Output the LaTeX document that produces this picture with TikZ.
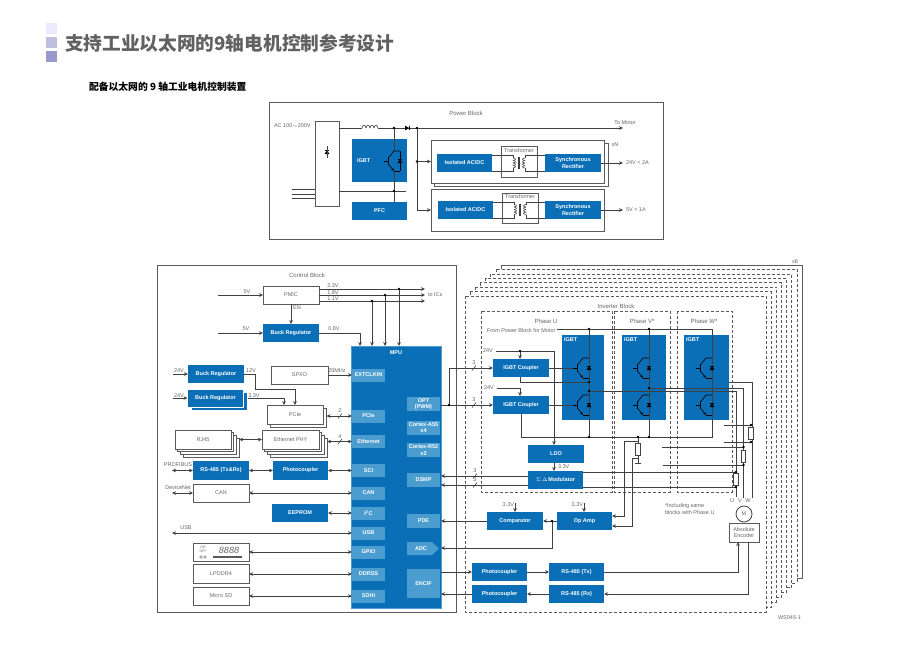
\documentclass[tikz,border=0pt]{standalone}
\usepackage{fontspec}
\setmainfont{Liberation Sans}
\newfontfamily\cjk{Noto Sans CJK SC}
\usetikzlibrary{arrows.meta, calc}
\definecolor{tiblue}{HTML}{0A6FB7}
\definecolor{portblue}{HTML}{4B9DD0}
\definecolor{linegray}{HTML}{404040}
\definecolor{boxgray}{HTML}{5A5A5A}
\definecolor{txtgray}{HTML}{666666}
\newcommand{\lblfont}{\fontsize{5.5}{6.5}\selectfont}
\newcommand{\diodesym}[2]{% #1 = centre, #2 = rotation
  \begin{scope}[shift={(#1)}, rotate=#2]
    \fill[black] (-2,-2.4) -- (2,0) -- (-2,2.4) -- cycle;
    \draw[black, line width=0.55pt] (2,-2.4) -- (2,2.4);
  \end{scope}
}
\newcommand{\igbtsym}[2]{% #1 = rail x, #2 = centre y
  \begin{scope}[shift={(#1,#2)}, black, line width=0.6pt]
    \draw (-16,0) -- (-12,0);
    \draw[line width=1pt] (-12,-4) -- (-12,4);
    \draw (-12,-2.5) -- (-6,-10) -- (0,-10);
    \draw[-{Stealth[length=3pt,width=2.6pt]}] (-12,2.5) -- (-6,10);
    \draw (-6,10) -- (0,10);
  \end{scope}
  \diodesym{#1,#2}{90}
}
\newcommand{\xfmr}[3]{% #1 = transformer node, #2 = left block, #3 = right block
  \begin{scope}[shift={(#1.center)}, yshift=-1.5]
    \foreach \k in {-5,-2.5,0,2.5} {
      \draw[wire] (-6,\k) .. controls (-2.8,\k+0.2) and (-2.8,\k+2.3) .. (-6,\k+2.5);
      \draw[wire] (6,\k) .. controls (2.8,\k+0.2) and (2.8,\k+2.3) .. (6,\k+2.5);
    }
    \draw[wire] (-0.7,-6) -- (-0.7,6);
    \draw[wire] (0.7,-6) -- (0.7,6);
    \coordinate (#1lt) at (-6,-5);
    \coordinate (#1lb) at (-6,5);
    \coordinate (#1rt) at (6,-5);
    \coordinate (#1rb) at (6,5);
  \end{scope}
  \draw[wire] ([yshift=8]#2.east) -| (#1lt);
  \draw[wire] ([yshift=-8]#2.east) -| (#1lb);
  \draw[wire] ([yshift=8]#3.west) -| (#1rt);
  \draw[wire] ([yshift=-8]#3.west) -| (#1rb);
}
\newcommand{\busmark}[3]{% #1 = label name, #2 = point on the line, #3 = width
  \draw[wire] ($(#2)+(-2,2.5)$) -- ($(#2)+(2,-2.5)$);
  \node[lbl] (#1) at ($(#2)+(0,-5)$) {#3};
}
\newcommand{\dotat}[1]{\fill[black] (#1) circle (1.4);}
\tikzset{
    every node/.style={inner sep=0, outer sep=0, font=\lblfont},
    wire/.style={draw=linegray, line width=0.6pt},
    sig/.style={wire, -{Stealth[length=4pt,width=3.6pt]}},
    bisig/.style={wire, {Stealth[length=4pt,width=3.6pt]}-{Stealth[length=4pt,width=3.6pt]}},
    bluebox/.style={fill=tiblue, text=white, font=\lblfont\bfseries, minimum width=56, minimum height=18},
    whitebox/.style={draw=boxgray, line width=0.8pt, fill=white, text=txtgray, minimum width=56, minimum height=18},
    port/.style={fill=portblue, text=white, font=\lblfont\bfseries, minimum width=33, minimum height=13, align=center},
    frame/.style={draw=boxgray, line width=0.8pt, fill=white},
    dashbox/.style={draw=boxgray, line width=0.6pt, dash pattern=on 3pt off 2pt},
    resbox/.style={draw=linegray, line width=0.6pt, fill=white, minimum width=4.5, minimum height=12},
    lbl/.style={text=txtgray},
    phaselbl/.style={text=txtgray, font=\fontsize{6}{7}\selectfont},
    }
\begin{document}
\begin{tikzpicture}[x=1pt, y=-1pt]
    \useasboundingbox (0,0) rectangle (899,662);

    % heading
    \fill[black!8!blue!8] (46,23) rectangle (57,34);
    \fill[blue!50!black!25] (46,37) rectangle (57,48);
    \fill[blue!50!black!40] (46,51) rectangle (57,62);
    \node[anchor=west, text=black!62] (title) at (65,43) {\cjk\bfseries\fontsize{18.7}{22}\selectfont 支持工业以太网的9轴电机控制参考设计};
    \node[anchor=west, text=black] (subtitle) at (89,87) {\cjk\bfseries\fontsize{9.8}{11}\selectfont 配备以太网的 9 轴工业电机控制装置};

    % power block
    \node[frame, minimum width=394, minimum height=137] (powerblk) at (466,170.5) {};
    \node[phaselbl] (lblpower) at (466,113) {Power Block};
    \node[whitebox, minimum width=24, minimum height=85] (rect) at (327,163.5) {};
    \node[bluebox, minimum width=55, minimum height=43] (igbt0) at (379.5,160.5) {};
    \node[anchor=west, text=white, font=\lblfont\bfseries] (lbligbt0) at (357,161) {IGBT};
    \node[bluebox, minimum width=55] (pfc) at (379.5,211) {PFC};
    \node[whitebox, minimum width=174, minimum height=43] (isoback) at (521,164.5) {};
    \node[whitebox, minimum width=173, minimum height=43] (iso1) at (517.5,161.5) {};
    \node[whitebox, minimum width=173, minimum height=42] (iso2) at (517.5,210) {};
    \node[bluebox, minimum width=55] (acdc1) at (464.5,163) {Isolated AC/DC};
    \node[bluebox, minimum width=55] (acdc2) at (465.5,210) {Isolated AC/DC};
    \node[whitebox, minimum width=36, minimum height=31] (trans1) at (519,161.5) {};
    \node[whitebox, minimum width=36, minimum height=30] (trans2) at (520,208) {};
    \node[lbl] (lbltrans1) at (519,150.5) {Transformer};
    \node[lbl] (lbltrans2) at (520,197) {Transformer};
    \node[bluebox, align=center] (sync1) at (573,163) {Synchronous\\Rectifier};
    \node[bluebox, align=center] (sync2) at (573,210) {Synchronous\\Rectifier};
    \node[lbl] (lblxn) at (615,145) {xN};

    \coordinate (acin1) at (292,189);
    \coordinate (acin2) at (292,194);
    \coordinate (acin3) at (292,198);
    \coordinate (acret) at (406,191);
    \coordinate (toplft) at (339,128);
    \coordinate (indl) at (362,128);
    \coordinate (indr) at (378,128);
    \coordinate (tomotor) at (623,128);
    \coordinate (jct1) at (394,128);
    \coordinate (jct2) at (394,191);
    \coordinate (igbtc) at (394,151);
    \coordinate (igbte) at (394,171);
    \coordinate (bustop) at (417,128);
    \coordinate (out24) at (623,163);
    \coordinate (out5) at (623,210);
    \draw[wire] (acin1) -- (acin1 -| rect.west);
    \draw[wire] (acin2) -- (acin2 -| rect.west);
    \draw[wire] (acin3) -- (acin3 -| rect.west);
    \draw[wire] (rect.east |- acret) -- (acret);
    \draw[wire] (toplft) -- (indl);
    \draw[sig] (indr) -- (tomotor);
    \foreach \k in {362,366,370,374} {
      \draw[wire] (\k,128) .. controls (\k+0.5,124.5) and (\k+3.5,124.5) .. (\k+4,128);
    }
    \diodesym{407,128}{0}
    \diodesym{327,152}{90}
    \draw[wire] (327,146) -- (327,158);
    \draw[wire] (jct1) -- (igbtc);
    \draw[wire] (igbte) -- (igbte |- pfc.north);
    \draw[black, line width=0.6pt] (400,151) -- (400,171);
    \igbtsym{400}{161}
    \draw[wire] (bustop) -- (bustop |- iso2.west);
    \draw[sig] (bustop |- iso1.west) -- (iso1.west);
    \draw[sig] (bustop |- iso2.west) -- (iso2.west);
    \dotat{jct1}
    \dotat{jct2}
    \dotat{bustop}
    \dotat{bustop |- iso1.west}
    \xfmr{trans1}{acdc1}{sync1}
    \xfmr{trans2}{acdc2}{sync2}
    \draw[sig] (sync1.east) -- (out24);
    \draw[sig] (sync2.east) -- (out5);
    \node[lbl, anchor=west] (lblac) at (274,126) {AC 100$\sim$200V};
    \node[lbl] (lbltomotor) at (625,123) {To Motor};
    \node[lbl, anchor=west] (lbl24out) at (626,163) {24V < 2A};
    \node[lbl, anchor=west] (lbl5out) at (626,210) {5V < 1A};

    % control block
    \node[frame, minimum width=299, minimum height=347] (ctrlblk) at (306.5,438.5) {};
    \node[phaselbl] (lblctrl) at (307,275) {Control Block};
    \node[whitebox] (pmic) at (291,295) {PMIC};
    \node[bluebox] (buck0) at (291,333) {Buck Regulator};
    \node[bluebox] (buck1) at (216,374) {Buck Regulator};
    \node[bluebox, draw=white, line width=0.4pt] (buck2b) at (219.5,401) {};
    \node[bluebox, draw=white, line width=0.4pt] (buck2) at (215.5,398) {Buck Regulator};
    \node[whitebox, minimum width=57] (spxo) at (299.5,375) {SPXO};
    \node[whitebox, minimum height=19] (pcieb) at (298.5,417.5) {};
    \node[whitebox, minimum height=19] (pcie) at (295,414.5) {PCIe};
    \foreach \k in {3,2,1} {
      \node[whitebox, minimum height=19] (rjb\k) at ({203+2.7*\k},{439.5+2.7*\k}) {};
      \node[whitebox, minimum width=57, minimum height=19] (phyb\k) at ({290.5+2.7*\k},{439.5+2.7*\k}) {};
    }
    \node[whitebox, minimum height=19] (rj) at (203,439.5) {RJ45};
    \node[whitebox, minimum width=57, minimum height=19] (phy) at (290.5,439.5) {Ethernet PHY};
    \node[bluebox, minimum height=19] (rs485) at (221,470.5) {RS-485 (Tx\&Rx)};
    \node[bluebox, minimum width=55, minimum height=19] (photo0) at (300.5,470.5) {Photocoupler};
    \node[whitebox] (can) at (221,493) {CAN};
    \node[bluebox] (eeprom) at (300,513) {EEPROM};
    \node[whitebox] (gpiobox) at (221,552) {};
    \node[whitebox, minimum height=19] (lpddr) at (221,574) {LPDDR4};
    \node[whitebox] (sd) at (221,596) {Micro SD};

    \node[fill=tiblue, draw=portblue, line width=0.4pt, minimum width=90, minimum height=262] (mpu) at (396,477) {};
    \node[text=white, font=\lblfont\bfseries] (lblmpu) at (396,353) {MPU};
    \node[port] (extclk) at (368.5,375) {EXTCLKIN};
    \node[port] (pciep) at (368.5,416) {PCIe};
    \node[port] (ethp) at (368.5,441.5) {Ethernet};
    \node[port] (scip) at (368.5,470.5) {SCI};
    \node[port] (canp) at (368.5,493) {CAN};
    \node[port] (i2cp) at (368.5,513) {I\textsuperscript{2}C};
    \node[port] (usbp) at (368.5,533) {USB};
    \node[port] (gpiop) at (368.5,552) {GPIO};
    \node[port] (ddrp) at (368.5,574) {DDRSS};
    \node[port] (sdhip) at (368.5,596) {SDHI};
    \node[port, minimum height=14] (optp) at (423.5,404) {OPT\\(PWM)};
    \node[port, minimum height=14] (a55p) at (423.5,427.5) {Cortex-A55\\x4};
    \node[port, minimum height=14] (r52p) at (423.5,450) {Cortex-R52\\x2};
    \node[port, minimum height=14] (dsmp) at (423.5,480) {DSMP};
    \node[port, minimum height=14] (pdep) at (423.5,521) {PDE};
    \fill[portblue] (407,542) -- (432,542) -- (439,548.5) -- (432,555) -- (407,555) -- cycle;
    \node[text=white, font=\lblfont\bfseries] (adcp) at (421,548.5) {ADC};
    \node[port, minimum height=29] (encif) at (423.5,583.5) {ENCIF};

    % display on the GPIO box
    \node[lbl, font=\fontsize{3.4}{3.8}\selectfont, align=center] (lblonoff) at (203,549) {ON\\OFF};
    \node[lbl, font=\fontsize{9}{9}\selectfont\itshape] (lbldigits) at (229,550) {8888};
    \draw[boxgray] (201,557) circle (1.3);
    \draw[boxgray] (205,557) circle (1.3);
    \fill[boxgray] (213,556) rectangle (242,558);

    % control block wires
    \coordinate (ic33) at (425,289);
    \coordinate (ic18) at (425,295);
    \coordinate (ic11) at (425,301);
    \coordinate (tap33) at (399,289);
    \coordinate (tap18) at (385,295);
    \coordinate (tap11) at (372,301);
    \coordinate (in5a) at (218,295);
    \coordinate (in5b) at (218,333);
    \coordinate (bend08) at (360,333);
    \coordinate (in24a) at (173,374);
    \coordinate (in24b) at (173,398);
    \coordinate (bend12a) at (255,374);
    \coordinate (bend12b) at (255,389);
    \coordinate (bend33) at (284,398);
    \coordinate (endprofi) at (172,470.5);
    \coordinate (enddnet) at (172,493);
    \coordinate (endusb) at (172,533);
    \draw[sig] (pmic.east |- ic33) -- (ic33);
    \draw[sig] (pmic.east |- ic18) -- (ic18);
    \draw[sig] (pmic.east |- ic11) -- (ic11);
    \draw[sig] (tap33) -- (tap33 |- mpu.north);
    \draw[sig] (tap18) -- (tap18 |- mpu.north);
    \draw[sig] (tap11) -- (tap11 |- mpu.north);
    \dotat{tap33}
    \dotat{tap18}
    \dotat{tap11}
    \draw[sig] (in5a) -- (pmic.west);
    \draw[sig] (in5b) -- (buck0.west);
    \draw[sig] (pmic.south) -- (buck0.north);
    \draw[sig] (buck0.east) -- (bend08) -- (bend08 |- mpu.north);
    \draw[sig] (spxo.east) -- (extclk.west);
    \draw[sig] (in24a) -- (buck1.west);
    \draw[sig] (in24b) -- (buck2.west);
    \draw[sig] (buck1.east) -- (bend12a) -- (bend12b) -- (bend12b -| pcie.north) -- (pcie.north);
    \draw[sig] (buck2b.east |- bend33) -- (bend33) -- (bend33 |- pcie.north);
    \draw[bisig] (pcieb.east |- pciep.west) -- (pciep.west);
    \draw[bisig] (rjb3.east |- phy.west) -- (phy.west);
    \draw[bisig] (phyb3.east |- ethp.west) -- (ethp.west);
    \busmark{lblbus2}{340,416}{2}
    \busmark{lblbus4}{340,441.5}{4}
    \draw[bisig] (endprofi) -- (rs485.west);
    \draw[bisig] (rs485.east) -- (photo0.west);
    \draw[bisig] (photo0.east) -- (scip.west);
    \draw[bisig] (enddnet) -- (can.west);
    \draw[bisig] (can.east) -- (canp.west);
    \draw[bisig] (eeprom.east) -- (i2cp.west);
    \draw[bisig] (endusb) -- (usbp.west);
    \draw[bisig] (gpiobox.east) -- (gpiop.west);
    \draw[bisig] (lpddr.east) -- (ddrp.west);
    \draw[bisig] (sd.east) -- (sdhip.west);

    \node[lbl] (lbl33) at (333,286) {3.3V};
    \node[lbl] (lbl18) at (333,292.5) {1.8V};
    \node[lbl] (lbl11) at (333,298.5) {1.1V};
    \node[lbl, anchor=west] (lblics) at (428,295) {to ICs};
    \node[lbl] (lbl5a) at (247,292) {5V};
    \node[lbl] (lbl5b) at (246,329) {5V};
    \node[lbl] (lblen) at (297,308) {EN};
    \node[lbl] (lbl08) at (334,329) {0.8V};
    \node[lbl] (lbl25m) at (337,371) {25MHz};
    \node[lbl] (lbl24a) at (179,371) {24V};
    \node[lbl] (lbl24b) at (179,396) {24V};
    \node[lbl] (lbl12) at (251,371) {12V};
    \node[lbl] (lbl33b) at (254,396) {3.3V};
    \node[lbl] (lblprofi) at (178,465) {PROFIBUS};
    \node[lbl] (lbldnet) at (178,488) {DeviceNet};
    \node[lbl] (lblusb) at (186,528) {USB};

    % inverter stack
    \foreach \k in {7,...,1} {
      \ifnum\k=7
        \draw[draw=boxgray, line width=0.6pt, fill=white] ({465+5.14*\k},{296-4.43*\k}) rectangle ({766+5.14*\k},{612-4.86*\k});
      \else
        \draw[dashbox, fill=white] ({465+5.14*\k},{296-4.43*\k}) rectangle ({766+5.14*\k},{612-4.86*\k});
      \fi
    }
    \draw[dashbox, fill=white] (465,296) rectangle (766,612);
    \node[lbl] (lblx8) at (795,262) {x8};
    \node[phaselbl] (lblinv) at (616,306) {Inverter Block};
    \draw[dashbox] (481,311) rectangle (612,492);
    \draw[dashbox] (614,311) rectangle (670,492);
    \draw[dashbox] (677,311) rectangle (732,492);
    \node[phaselbl] (lblphu) at (546,321) {Phase U};
    \node[phaselbl] (lblphv) at (642,321) {Phase V*};
    \node[phaselbl] (lblphw) at (704,321) {Phase W*};
    \node[lbl, anchor=west] (lblfrom) at (487,331) {From Power Block for Motor};

    \node[bluebox, minimum width=42, minimum height=85] (igbtu) at (583,377.5) {};
    \node[bluebox, minimum width=44, minimum height=85] (igbtv) at (644,377.5) {};
    \node[bluebox, minimum width=45, minimum height=85] (igbtw) at (706.5,377) {};
    \node[anchor=west, text=white, font=\lblfont\bfseries] (lblig1) at (564,340) {IGBT};
    \node[anchor=west, text=white, font=\lblfont\bfseries] (lblig2) at (624,340) {IGBT};
    \node[anchor=west, text=white, font=\lblfont\bfseries] (lblig3) at (686,340) {IGBT};
    \node[bluebox] (coup1) at (521,368) {IGBT Coupler};
    \node[bluebox] (coup2) at (521,405) {IGBT Coupler};
    \node[bluebox] (ldo) at (556,454) {LDO};
    \node[bluebox, minimum width=55] (mod) at (555.5,480) {$\Sigma\,\Delta$\,Modulator};
    \node[bluebox] (comp) at (515,521) {Comparator};
    \node[bluebox, minimum width=55] (opamp) at (584.5,521) {Op Amp};
    \node[bluebox, minimum width=55] (ph1) at (499.5,572) {Photocoupler};
    \node[bluebox, minimum width=55] (ph2) at (499.5,594) {Photocoupler};
    \node[bluebox, minimum width=55] (tx) at (576.5,572) {RS-485 (Tx)};
    \node[bluebox, minimum width=55] (rx) at (576.5,594) {RS-485 (Rx)};
    \node[draw=linegray, line width=0.8pt, fill=white, circle, minimum size=16, text=txtgray] (motor) at (744,514) {M};
    \node[whitebox, minimum width=30, minimum height=19, align=center] (enc) at (744,532.5) {Absolute\\Encoder};

    % inverter wires
    \coordinate (railtop) at (557,329);
    \coordinate (railu) at (589,329);
    \coordinate (railv) at (649,329);
    \coordinate (railw) at (712,329);
    \coordinate (railub) at (589,437);
    \coordinate (railvb) at (649,437);
    \coordinate (railwb) at (712,437);
    \coordinate (v24a) at (496,351);
    \coordinate (v24ab) at (554,351);
    \coordinate (tap24) at (520,351);
    \coordinate (v24b) at (497,388);
    \coordinate (v24bb) at (520,388);
    \coordinate (coupmid) at (520,382);
    \coordinate (midu) at (589,391);
    \coordinate (midv) at (649,388);
    \coordinate (midw) at (729,382);
    \coordinate (motu) at (736,497);
    \coordinate (motv) at (743.5,498);
    \coordinate (motw) at (752,498);
    \coordinate (optj) at (449,405);
    \coordinate (optup) at (449,368);
    \coordinate (gate1) at (573,368);
    \coordinate (gate2) at (573,405);
    \draw[wire] (railtop) -- (railw) -- (railwb) -- (coup2.south |- railwb) -- (coup2.south);
    \draw[wire] (railu) -- (railub);
    \draw[wire] (railv) -- (railvb);
    \foreach \xr in {589,649,712} {
      \igbtsym{\xr}{368}
      \igbtsym{\xr}{405}
    }
    \draw[wire] (coup1.east) -- (gate1);
    \draw[wire] (coup2.east) -- (gate2);
    \draw[wire] (v24a) -- (v24ab);
    \draw[sig] (v24ab) -- (v24ab |- ldo.north);
    \draw[sig] (tap24) -- (tap24 |- coup1.north);
    \draw[wire] (v24b) -- (v24bb);
    \draw[sig] (v24bb) -- (v24bb |- coup2.north);
    \draw[wire] (coup1.south -| coupmid) -- (coupmid) -- (midu |- coupmid);
    \draw[wire] (midu) -- (midu -| motu) -- (motu);
    \draw[wire] (midv) -- (midv -| motv) -- (motv);
    \draw[wire] (midw) -- (midw -| motw) -- (motw);
    \draw[wire] (mpu.east |- optj) -- (optj);
    \draw[sig] (optj) -- (coup2.west);
    \draw[sig] (optj) -- (optup) -- (coup1.west);
    \busmark{lblbus3a}{474,368}{3}
    \busmark{lblbus3b}{474,405}{3}
    \foreach \pt in {railu, railv, railub, railvb, tap24, midu, midv, optj} {\dotat{\pt}}
    \dotat{midu |- coupmid}
    \node[lbl] (lbl24c) at (488,351) {24V};
    \node[lbl] (lbl24d) at (489,388) {24V};

    % current sense
    \coordinate (wsa) at (751,425);
    \coordinate (wsb) at (751,442);
    \coordinate (vsa) at (743.5,447);
    \coordinate (vsb) at (743.5,465);
    \coordinate (usa) at (736,472);
    \coordinate (usb) at (736,487);
    \coordinate (wsal) at (724,425);
    \coordinate (wsbl) at (724,442);
    \coordinate (vsal) at (662,447);
    \coordinate (vsbl) at (663,465);
    \coordinate (dsmpa) at (528,476);
    \coordinate (dsmpb) at (528,485);
    \draw[wire] (wsal) -- (wsa);
    \draw[wire] (wsbl) -- (wsb);
    \draw[wire] (vsal) -- (vsa);
    \draw[wire] (vsbl) -- (vsb);
    \draw[wire] (mod.east |- usa) -- (usa);
    \draw[wire] (mod.east |- usb) -- (usb);
    \foreach \pt in {wsa, wsb, vsa, vsb, usa, usb} {\dotat{\pt}}
    \node[resbox] (resw) at (751,433.5) {};
    \node[resbox] (resv) at (743.5,456) {};
    \node[resbox] (resu) at (736,479.5) {};
    \node[lbl] (lblu) at (732,501) {U};
    \node[lbl] (lblv) at (740,501) {V};
    \node[lbl] (lblw) at (748,501) {W};

    \coordinate (senst) at (638,441);
    \coordinate (sensb) at (638,458);
    \coordinate (gnd) at (638,463);
    \coordinate (sensa) at (624,441);
    \coordinate (sensc) at (632,458);
    \coordinate (opa) at (624,516);
    \coordinate (opb) at (632,526);
    \draw[wire] (railub -| gnd) -- (gnd);
    \draw[wire] (635,463) -- (641,463);
    \dotat{railub -| gnd}
    \draw[sig] (senst) -- (sensa) -- (opa) -- (opa -| opamp.east);
    \draw[sig] (sensb) -- (sensc) -- (opb) -- (opb -| opamp.east);
    \node[resbox] (res0) at (638,449.5) {};

    \draw[sig] (dsmpa) -- (mpu.east |- dsmpa);
    \draw[sig] (dsmpb) -- (mpu.east |- dsmpb);
    \busmark{lblbus3c}{475,476}{3}
    \busmark{lblbus3d}{475,485}{3}
    \draw[sig] (ldo.south -| v24ab) -- (mod.north -| v24ab);
    \node[lbl, anchor=west] (lbl33m) at (558,467) {3.3V};

    % comparator and op amp
    \coordinate (v33a) at (515,503);
    \coordinate (v33b) at (584,503);
    \coordinate (adcj) at (552,521);
    \coordinate (adcb) at (552,548);
    \draw[sig] (v33a) -- (comp.north -| v33a);
    \draw[sig] (v33b) -- (opamp.north -| v33b);
    \draw[sig] (opamp.west) -- (comp.east);
    \draw[sig] (adcj) -- (adcb) -- (mpu.east |- adcb);
    \dotat{adcj}
    \draw[sig] (comp.west) -- (mpu.east |- comp.west);
    \node[lbl, anchor=east] (lbl33c) at (514,505) {3.3V};
    \node[lbl, anchor=east] (lbl33d) at (583,505) {3.3V};

    % encoder loop
    \coordinate (enctx) at (738,572);
    \coordinate (encrx) at (748,594);
    \draw[sig] (mpu.east |- ph1.west) -- (ph1.west);
    \draw[sig] (ph1.east) -- (tx.west);
    \draw[sig] (tx.east) -- (enctx) -- (enctx |- enc.south);
    \draw[sig] (encrx |- enc.south) -- (encrx) -- (rx.east);
    \draw[sig] (rx.west) -- (ph2.east);
    \draw[sig] (ph2.west) -- (mpu.east |- ph2.west);

    \node[lbl, anchor=north west, align=left] (lblnote) at (665,504) {*Including same\\blocks with Phase U};
    \node[lbl] (lblws) at (789.5,618) {WS045-1};
\end{tikzpicture}
\end{document}
